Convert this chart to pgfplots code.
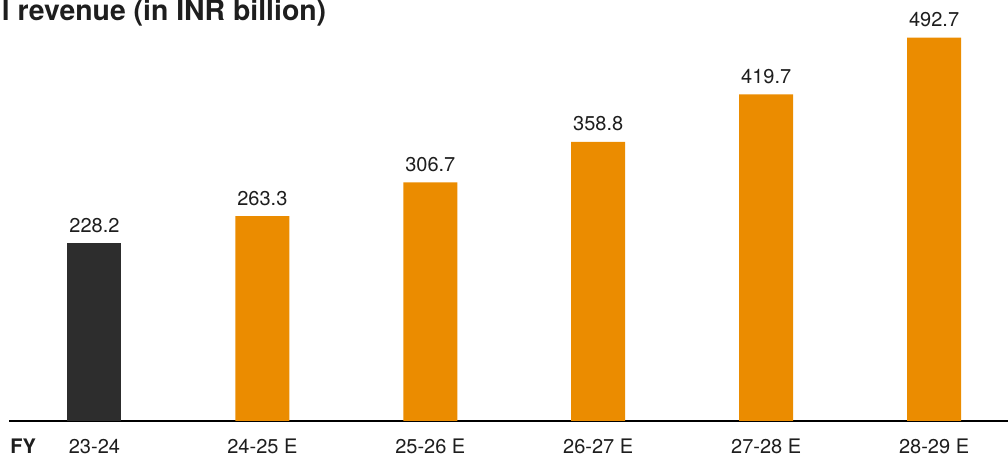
\documentclass[border=0pt]{standalone}
\usepackage{pgfplots}
\pgfplotsset{compat=1.18}
\usepackage{fontspec}
\setmainfont{TeX Gyre Heros}
\definecolor{barorange}{HTML}{EB8C00}
\definecolor{bardark}{HTML}{2D2D2D}
\definecolor{txt}{HTML}{1E1E1E}
\begin{document}
\begin{tikzpicture}
\path[use as bounding box] (0,0) rectangle (504pt,230pt);
\begin{axis}[
  at={(4.65pt,19.5pt)}, anchor=south west,
  scale only axis, width=499.35pt, height=210.5pt,
  xmin=-0.507, xmax=5.44, ymin=0, ymax=541,
  axis x line*=bottom, axis y line=none,
  axis line style={line width=0.75pt, color=black},
  ybar, bar width=27pt, bar shift=0pt,
  xtick={0,1,2,3,4,5},
  xticklabels={23-24,24-25 E,25-26 E,26-27 E,27-28 E,28-29 E},
  major tick length=0pt,
  xticklabel style={font=\fontsize{10}{12}\selectfont, text=txt, anchor=base, yshift=-16.2pt},
  nodes near coords,
  /pgf/number format/assume math mode=true,
  /pgf/number format/.cd, fixed, fixed zerofill, precision=1, /pgfplots/.cd,
  every node near coord/.append style={font=\fontsize{10}{12}\selectfont, text=txt, anchor=base, yshift=5.5pt},
  clip=false,
]
\addplot[fill=bardark, draw=none] coordinates {(0,228.2)};
\addplot[fill=barorange, draw=none] coordinates {(1,263.3) (2,306.7) (3,358.8) (4,419.7) (5,492.7)};
\end{axis}
\node[anchor=base west, inner sep=0, font=\fontsize{10}{12}\selectfont\bfseries, text=txt] at (5pt,3pt) {FY};
\node[anchor=base east, inner sep=0, font=\fontsize{14.2}{16}\selectfont\bfseries, text=txt] at (163.3pt,219.5pt) {l revenue (in INR billion)};
\end{tikzpicture}
\end{document}
